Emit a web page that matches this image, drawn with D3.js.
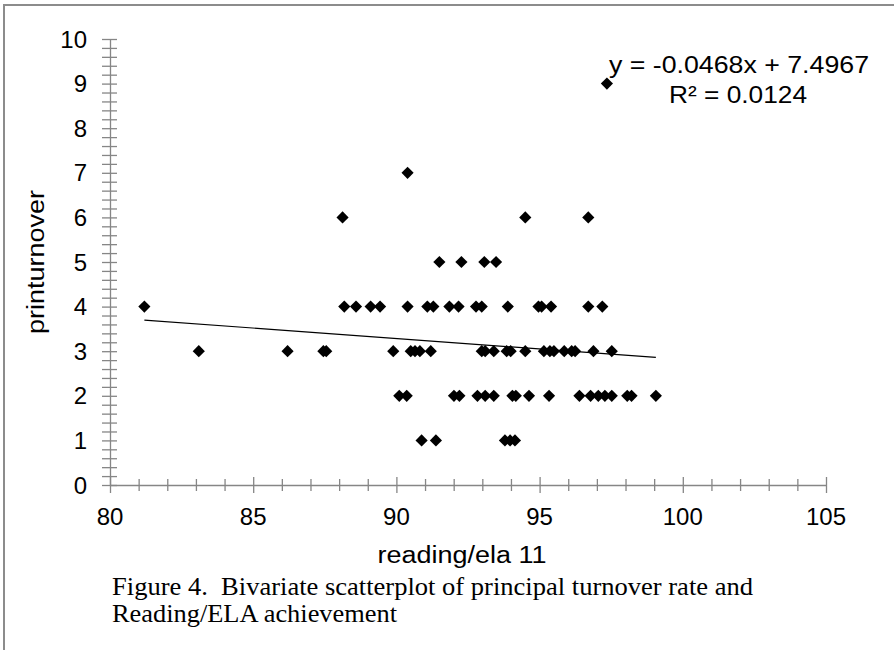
<!DOCTYPE html>
<html>
<head>
<meta charset="utf-8">
<script src="https://cdn.jsdelivr.net/npm/d3@7"></script>
<style>
  body { margin: 0; background: #fff; }
  svg { display: block; }
  text { white-space: pre; }
</style>
</head>
<body>
<svg id="chart" width="894" height="650"></svg>
<script>
(function () {
    'use strict';

    // reading/ela 11 score and principal turnover, one entry per school
    var reading = [
        97.35,
        90.39,
        88.12, 94.5, 96.7,
        91.5, 92.27, 93.07, 93.48,
        81.2, 88.18, 88.59, 89.1, 89.43, 90.39, 91.08, 91.29, 91.85, 92.17, 92.78, 92.98, 93.89, 94.96, 95.07, 95.4, 96.7, 97.19,
        83.1, 86.2, 87.45, 87.55, 89.89, 90.5, 90.65, 90.82, 91.2, 92.98, 93.1, 93.4, 93.85, 93.99, 94.5, 95.15, 95.36, 95.5, 95.86, 96.12, 96.24, 96.88, 97.52,
        90.1, 90.36, 92.01, 92.2, 92.83, 93.1, 93.4, 94.05, 94.17, 94.63, 95.33, 96.39, 96.78, 97.05, 97.28, 97.52, 98.06, 98.21, 99.06,
        90.88, 91.38, 93.79, 93.97, 94.14
    ];
    var turnover = [
        9,
        7,
        6, 6, 6,
        5, 5, 5, 5,
        4, 4, 4, 4, 4, 4, 4, 4, 4, 4, 4, 4, 4, 4, 4, 4, 4, 4,
        3, 3, 3, 3, 3, 3, 3, 3, 3, 3, 3, 3, 3, 3, 3, 3, 3, 3, 3, 3, 3, 3, 3,
        2, 2, 2, 2, 2, 2, 2, 2, 2, 2, 2, 2, 2, 2, 2, 2, 2, 2, 2,
        1, 1, 1, 1, 1
    ];

    var xTicks = [80, 85, 90, 95, 100, 105],
        yTicks = [0, 1, 2, 3, 4, 5, 6, 7, 8, 9, 10];

    var slope = -0.0468,
        intercept = 7.4967,
        eqLabel = 'y = -0.0468x + 7.4967',
        r2Label = 'R\u00b2 = 0.0124';

    var xTitle = 'reading/ela 11',
        yTitle = 'printurnover',
        caption = [
            'Figure 4.  Bivariate scatterplot of principal turnover rate and',
            'Reading/ELA achievement'
        ];

    var points = reading.map(function (r, i) {
        return { x: r, y: turnover[i] };
    });

    var axisGrey = '#868686',
        sans = '"Liberation Sans", Arial, sans-serif',
        serif = '"Liberation Serif", "Times New Roman", serif';

    var svg = d3.select('#chart');

    // outer frame (right and bottom edges fall off the picture)
    svg.append('rect')
        .attr('x', 4)
        .attr('y', 5)
        .attr('width', 920)
        .attr('height', 680)
        .attr('fill', 'none')
        .attr('stroke', '#8c8c8c')
        .attr('stroke-width', 2);

    var x = d3.scaleLinear().domain([80, 105]).range([110, 826]),
        y = d3.scaleLinear().domain([0, 10]).range([485, 39]);

    // x axis: minor every 1, labels every 5
    var gx = svg.append('g')
        .attr('transform', 'translate(0,' + y(0) + ')')
        .call(d3.axisBottom(x)
            .tickValues(d3.range(80, 105.5, 1))
            .tickSize(0)
            .tickFormat(''));
    gx.select('.domain').attr('stroke', axisGrey).attr('stroke-width', 1.3);
    gx.selectAll('.tick line')
        .attr('stroke', axisGrey)
        .attr('stroke-width', 1.3)
        .attr('y1', function (d) { return d % 5 === 0 ? -8 : -6; })
        .attr('y2', function (d) { return d % 5 === 0 ? 8 : 6; });

    svg.append('g').selectAll('text')
        .data(xTicks)
        .join('text')
        .attr('x', function (d) { return x(d); })
        .attr('y', y(0) + 40)
        .attr('text-anchor', 'middle')
        .attr('font-family', sans)
        .attr('font-size', 24)
        .attr('fill', '#000')
        .text(function (d) { return d; });

    // y axis: minor every 0.2, labels every 1
    var gy = svg.append('g')
        .attr('transform', 'translate(' + x(80) + ',0)')
        .call(d3.axisLeft(y)
            .tickValues(d3.range(0, 10.01, 0.2))
            .tickSize(0)
            .tickFormat(''));
    gy.select('.domain').attr('stroke', axisGrey).attr('stroke-width', 1.3);
    gy.selectAll('.tick line')
        .attr('stroke', axisGrey)
        .attr('stroke-width', 1.3)
        .attr('x1', -8)
        .attr('x2', 7);

    svg.append('g').selectAll('text')
        .data(yTicks)
        .join('text')
        .attr('x', x(80) - 23)
        .attr('y', function (d) { return y(d); })
        .attr('dy', '0.36em')
        .attr('text-anchor', 'end')
        .attr('font-family', sans)
        .attr('font-size', 24)
        .attr('fill', '#000')
        .text(function (d) { return d; });

    // trend line over the data's x range
    var xExt = d3.extent(reading);
    svg.append('line')
        .attr('x1', x(xExt[0]))
        .attr('y1', y(slope * xExt[0] + intercept))
        .attr('x2', x(xExt[1]))
        .attr('y2', y(slope * xExt[1] + intercept))
        .attr('stroke', '#000')
        .attr('stroke-width', 1.2);

    // diamond markers
    var diamond = d3.symbol().type(d3.symbolSquare).size(74);
    svg.append('g').selectAll('path')
        .data(points)
        .join('path')
        .attr('d', diamond)
        .attr('transform', function (d) {
            return 'translate(' + x(d.x) + ',' + y(d.y) + ') rotate(45)';
        })
        .attr('fill', '#000');

    // regression label
    svg.append('text')
        .attr('x', 739)
        .attr('y', 73)
        .attr('text-anchor', 'middle')
        .attr('font-family', sans)
        .attr('font-size', 24)
        .attr('textLength', 260)
        .attr('lengthAdjust', 'spacingAndGlyphs')
        .text(eqLabel);
    svg.append('text')
        .attr('x', 738)
        .attr('y', 103)
        .attr('text-anchor', 'middle')
        .attr('font-family', sans)
        .attr('font-size', 24)
        .attr('textLength', 138)
        .attr('lengthAdjust', 'spacingAndGlyphs')
        .text(r2Label);

    // axis titles
    svg.append('text')
        .attr('x', 462)
        .attr('y', 563)
        .attr('text-anchor', 'middle')
        .attr('font-family', sans)
        .attr('font-size', 23)
        .attr('textLength', 169)
        .attr('lengthAdjust', 'spacingAndGlyphs')
        .text(xTitle);
    svg.append('text')
        .attr('transform', 'translate(44,262) rotate(-90)')
        .attr('text-anchor', 'middle')
        .attr('font-family', sans)
        .attr('font-size', 23)
        .attr('textLength', 144)
        .attr('lengthAdjust', 'spacingAndGlyphs')
        .text(yTitle);

    // figure caption
    var capWidths = [641, 285];
    svg.append('g').selectAll('text')
        .data(caption)
        .join('text')
        .attr('x', 112)
        .attr('y', function (d, i) { return 595 + i * 27; })
        .attr('font-family', serif)
        .attr('font-size', 25)
        .attr('textLength', function (d, i) { return capWidths[i]; })
        .attr('lengthAdjust', 'spacingAndGlyphs')
        .attr('fill', '#000')
        .text(function (d) { return d; });
}());
</script>
</body>
</html>
